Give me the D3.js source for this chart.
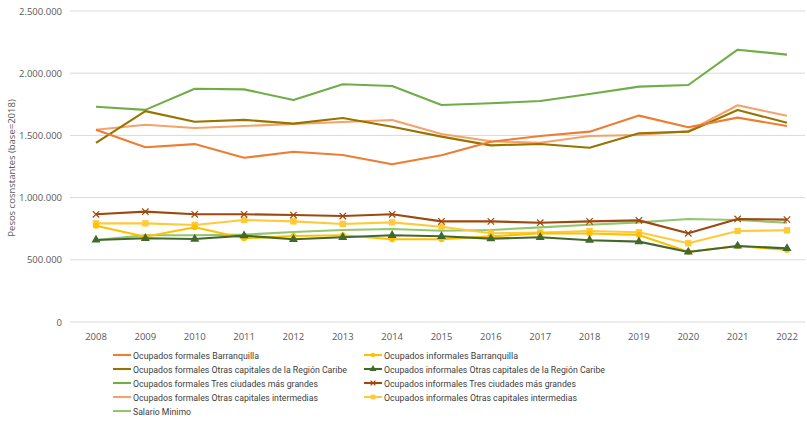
<!DOCTYPE html>
<html><head><meta charset="utf-8">
<script src="https://cdn.jsdelivr.net/npm/d3@7"></script>
<style>body{margin:0;background:#fff;font-family:"Open Sans","DejaVu Sans",sans-serif;}</style>
</head><body><svg id="c" width="807" height="421"></svg>
<script>
const years = [2008,2009,2010,2011,2012,2013,2014,2015,2016,2017,2018,2019,2020,2021,2022];
const yTicks = [0,500000,1000000,1500000,2000000,2500000];
const yTickLabels = ["0","500.000","1.000.000","1.500.000","2.000.000","2.500.000"];
const seriesNames = [
 "Ocupados formales Barranquilla",
 "Ocupados informales Barranquilla",
 "Ocupados formales Otras capitales de la Región Caribe",
 "Ocupados informales Otras capitales de la Región Caribe",
 "Ocupados formales Tres ciudades más grandes",
 "Ocupados informales Tres ciudades más grandes",
 "Ocupados formales Otras capitales intermedias",
 "Ocupados informales Otras capitales intermedias",
 "Salario Minimo"
];
const formBaq   = [1545000,1405000,1430000,1320000,1368000,1343000,1268000,1340000,1449000,1495000,1530000,1659000,1565000,1643000,1576000];
const infBaq    = [774000,686000,761000,673000,691000,697000,665000,665000,688000,713000,712000,700000,565000,611000,579000];
const formCar   = [1440000,1695000,1610000,1625000,1595000,1640000,1570000,1490000,1420000,1431000,1401000,1517000,1530000,1704000,1602000];
const infCar    = [659000,673000,667000,694000,665000,681000,697000,689000,670000,681000,657000,646000,563000,611000,592000];
const formTres  = [1730000,1705000,1875000,1870000,1785000,1911000,1897000,1744000,1758000,1777000,1833000,1892000,1905000,2189000,2149000];
const infTres   = [866000,887000,866000,866000,860000,852000,866000,809000,809000,798000,809000,817000,713000,828000,823000];
const formInt   = [1545000,1585000,1560000,1575000,1592000,1608000,1624000,1511000,1453000,1441000,1495000,1503000,1533000,1742000,1658000];
const infInt    = [793000,793000,780000,820000,809000,788000,801000,766000,713000,720000,731000,721000,633000,732000,737000];
const salMin    = [659000,697000,697000,702000,724000,740000,748000,734000,740000,761000,782000,801000,828000,820000,798000];
const seriesValues = [formBaq,infBaq,formCar,infCar,formTres,infTres,formInt,infInt,salMin];
const colors = ["#ED7D31","#FFC000","#997300","#43682B","#70AD47","#9E480E","#F4A36B","#FFCA3A","#92C56E"];
const markers = [null,"circle",null,"triangle",null,"x",null,"square",null];
const legendWidths = [126,134,214,221,185,192,185,193,58];

const svg = d3.select("#c");
const x = d3.scalePoint().domain(years).range([96,787]);
const y = d3.scaleLinear().domain([0,2500000]).range([322,11]);

svg.append("g").selectAll("line").data(yTicks).join("line")
 .attr("x1",70).attr("x2",805).attr("y1",d=>y(d)).attr("y2",d=>y(d))
 .attr("stroke","#d9d9d9").attr("stroke-width",1);

svg.append("g").selectAll("text").data(yTicks).join("text")
 .attr("x",62).attr("y",d=>y(d)+3.5).attr("text-anchor","end")
 .attr("font-size","9.5px").attr("fill","#595959").text((d,i)=>yTickLabels[i]);

svg.append("g").selectAll("text").data(years).join("text")
 .attr("x",d=>x(d)).attr("y",340).attr("text-anchor","middle")
 .attr("font-size","9.5px").attr("fill","#595959").text(d=>d);

svg.append("text").attr("transform","translate(15,168) rotate(-90)")
 .attr("text-anchor","middle").attr("font-size","9.5px").attr("fill","#595959")
 .text("Pesos cosnstantes (base=2018)");

const line = d3.line().x((d,i)=>x(years[i])).y(d=>y(d));

function drawMarker(g, type, cx, cy, color, s){
  if(type==="circle") g.append("circle").attr("cx",cx).attr("cy",cy).attr("r",s*0.75).attr("fill",color);
  else if(type==="square") g.append("rect").attr("x",cx-s*0.8).attr("y",cy-s*0.8).attr("width",s*1.6).attr("height",s*1.6).attr("fill",color);
  else if(type==="triangle") g.append("path").attr("d",d3.symbol(d3.symbolTriangle, s*s*2.2)()).attr("transform",`translate(${cx},${cy})`).attr("fill",color);
  else if(type==="x") g.append("path").attr("d",`M${cx-s*0.8},${cy-s*0.8}L${cx+s*0.8},${cy+s*0.8}M${cx-s*0.8},${cy+s*0.8}L${cx+s*0.8},${cy-s*0.8}`).attr("stroke",color).attr("stroke-width",1.2);
}

const drawOrder = [8,6,4,2,0,7,1,3,5];
drawOrder.forEach(i=>{
  const g = svg.append("g");
  g.append("path").datum(seriesValues[i]).attr("d",line).attr("fill","none")
   .attr("stroke",colors[i]).attr("stroke-width",2.1).attr("stroke-linejoin","round");
  if(markers[i]) seriesValues[i].forEach((v,j)=>drawMarker(g,markers[i],x(years[j]),y(v),colors[i],4));
});

const legPos = [[113,355],[364,355],[113,369],[364,369],[113,383],[364,383],[113,397],[364,397],[113,411]];
seriesNames.forEach((n,i)=>{
  const [lx,ly] = legPos[i];
  const g = svg.append("g");
  g.append("line").attr("x1",lx).attr("x2",lx+18).attr("y1",ly).attr("y2",ly).attr("stroke",colors[i]).attr("stroke-width",2.1);
  if(markers[i]) drawMarker(g,markers[i],lx+9,ly,colors[i],3);
  g.append("text").attr("x",lx+20).attr("y",ly+3.5).attr("font-size","9.5px").attr("fill","#404040")
   .attr("font-family","Roboto, 'Open Sans', sans-serif")
   .attr("textLength",legendWidths[i]).attr("lengthAdjust","spacingAndGlyphs").text(n);
});
</script></body></html>
